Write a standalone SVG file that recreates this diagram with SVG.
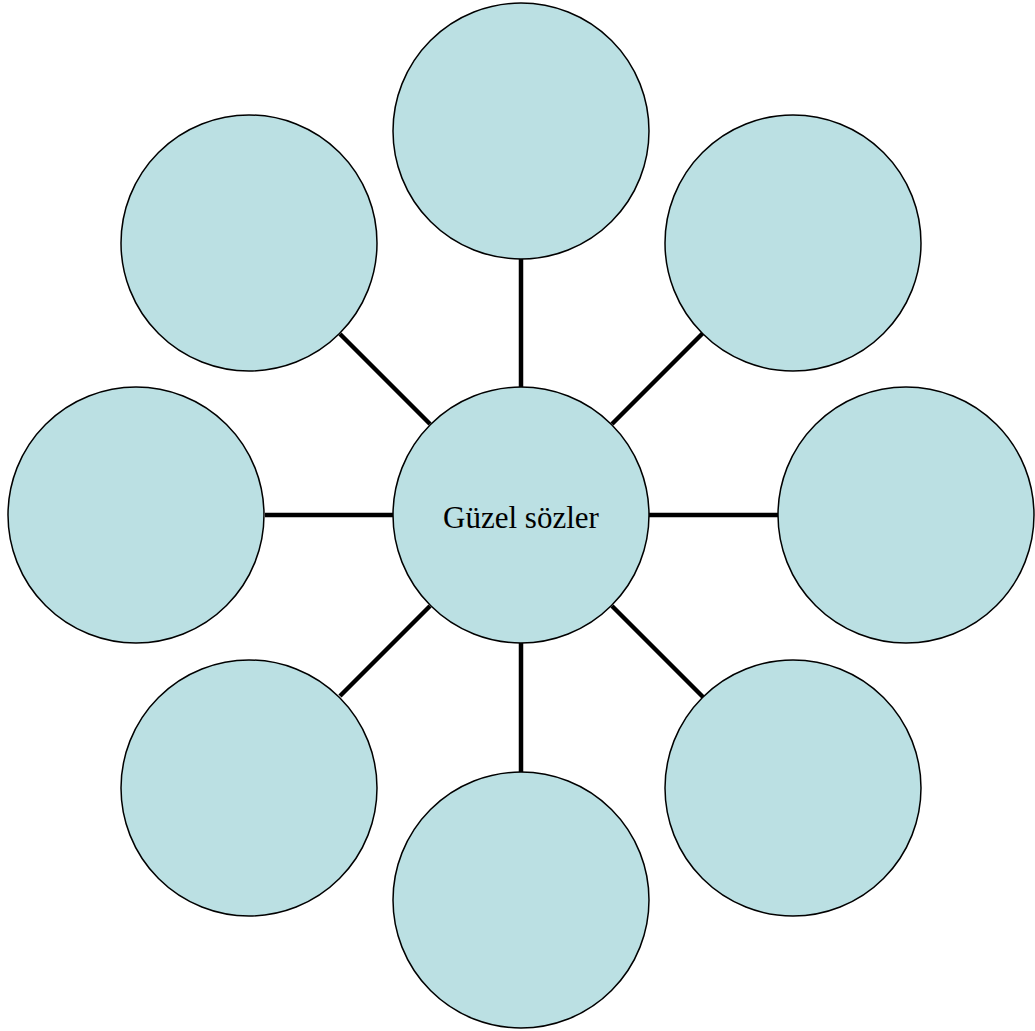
<svg xmlns="http://www.w3.org/2000/svg" width="1035" height="1031" viewBox="0 0 1035 1031">
<style>
.n{fill:#BBE0E3;stroke:#000;stroke-width:1.5}
.c line{stroke:#000;stroke-width:4.5}
.t{font-family:"Liberation Serif",serif;font-size:31px;fill:#000}
</style>
<rect width="1035" height="1031" fill="#fff"/>
<g class="c" id="connectors">
<line x1="521" y1="259" x2="521" y2="387"/>
<line x1="521" y1="643" x2="521" y2="772"/>
<line x1="265" y1="515" x2="393" y2="515"/>
<line x1="649" y1="515" x2="778" y2="515"/>
<line x1="612" y1="424" x2="703" y2="333"/>
<line x1="430" y1="424" x2="340" y2="334"/>
<line x1="612" y1="606" x2="703" y2="697"/>
<line x1="430" y1="606" x2="340" y2="696"/>
</g>
<g id="n-top"><circle class="n" cx="521" cy="131" r="128"/></g>
<g id="n-topright"><circle class="n" cx="793" cy="243" r="128"/></g>
<g id="n-right"><circle class="n" cx="906" cy="515" r="128"/></g>
<g id="n-bottomright"><circle class="n" cx="793" cy="788" r="128"/></g>
<g id="n-bottom"><circle class="n" cx="521" cy="900" r="128"/></g>
<g id="n-bottomleft"><circle class="n" cx="249" cy="788" r="128"/></g>
<g id="n-left"><circle class="n" cx="136" cy="515" r="128"/></g>
<g id="n-topleft"><circle class="n" cx="249" cy="243" r="128"/></g>
<g id="n-center"><circle class="n" cx="521" cy="515" r="128"/><text class="t" x="521" y="528" text-anchor="middle">Güzel sözler</text></g>
</svg>
